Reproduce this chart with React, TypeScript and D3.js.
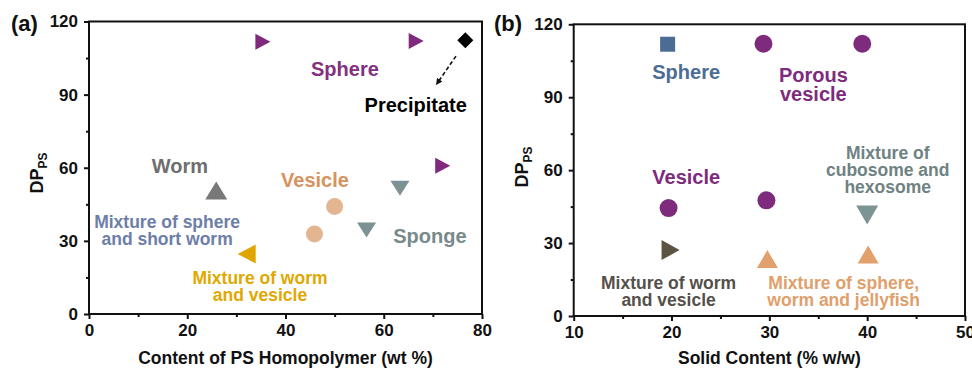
import React, { useEffect, useRef } from 'react';
import * as d3 from 'd3';

// panel (a): DP_PS vs content of PS homopolymer
const aSphereX = [35.4, 66.6, 72.0];
const aSphereY = [111.7, 112.0, 60.8];
const aPrecipX = [76.6];
const aPrecipY = [112.3];
const aWormX = [25.9];
const aWormY = [50.7];
const aWormVesX = [32.1];
const aWormVesY = [24.6];
const aVesicleX = [45.9, 50.0];
const aVesicleY = [32.8, 44.1];
const aSpongeX = [56.5, 63.3];
const aSpongeY = [34.5, 51.6];

// panel (b): DP_PS vs solid content
const bSphereX = [19.6];
const bSphereY = [111.8];
const bPorousX = [29.4, 39.5];
const bPorousY = [112.0, 112.0];
const bVesicleX = [19.7, 29.7];
const bVesicleY = [44.4, 47.6];
const bWormVesX = [19.9];
const bWormVesY = [27.1];
const bJellyX = [29.8, 40.1];
const bJellyY = [23.4, 25.3];
const bCuboX = [40.0];
const bCuboY = [41.5];

const yTicks = [0, 30, 60, 90, 120];
const yMinor = [15, 45, 75, 105];
const aXTicks = [0, 20, 40, 60, 80];
const aXMinor = [10, 30, 50, 70];
const bXTicks = [10, 20, 30, 40, 50];
const bXMinor = [15, 25, 35, 45];

const FONT = '"Liberation Sans", Arial, sans-serif';

const zip = (xs: number[], ys: number[]) => xs.map((x, i) => ({ x, y: ys[i] }));

function shapePath(shape: string, w: number, h: number) {
  const p = d3.path();
  const a = w / 2, b = h / 2;
  if (shape === 'circle') {
    p.arc(0, 0, a, 0, Math.PI * 2);
  } else if (shape === 'square') {
    p.rect(-a, -b, w, h);
  } else if (shape === 'right') {
    p.moveTo(-a, -b); p.lineTo(a, 0); p.lineTo(-a, b); p.closePath();
  } else if (shape === 'left') {
    p.moveTo(a, -b); p.lineTo(-a, 0); p.lineTo(a, b); p.closePath();
  } else if (shape === 'up') {
    p.moveTo(0, -b); p.lineTo(a, b); p.lineTo(-a, b); p.closePath();
  } else if (shape === 'down') {
    p.moveTo(-a, -b); p.lineTo(a, -b); p.lineTo(0, b); p.closePath();
  } else {
    p.moveTo(0, -b); p.lineTo(a, 0); p.lineTo(0, b); p.lineTo(-a, 0); p.closePath();
  }
  return p.toString();
}

function drawPanel(svg: any, cfg: any) {
  const x = d3.scaleLinear().domain(cfg.xDomain).range([cfg.left, cfg.right]);
  const y = d3.scaleLinear().domain([0, 120]).range([cfg.bottom, cfg.top]);
  const g = svg.append('g');

  const styleAxis = (sel: any) => {
    sel.select('.domain').remove();
    sel.selectAll('line').attr('stroke', '#111').attr('stroke-width', 2);
    sel.selectAll('text')
      .attr('font-family', FONT).attr('font-weight', 'bold')
      .attr('font-size', 17).attr('fill', '#111');
  };

  g.append('g').attr('transform', `translate(0,${cfg.bottom})`)
    .call(d3.axisBottom(x).tickValues(cfg.xTicks).tickSize(5).tickPadding(5).tickFormat(d3.format('d')))
    .call(styleAxis);
  g.append('g').attr('transform', `translate(0,${cfg.bottom})`)
    .call(d3.axisBottom(x).tickValues(cfg.xMinor).tickSize(3).tickFormat(() => ''))
    .call(styleAxis);
  g.append('g').attr('transform', `translate(${cfg.left},0)`)
    .call(d3.axisLeft(y).tickValues(yTicks).tickSize(5).tickPadding(6).tickFormat(d3.format('d')))
    .call(styleAxis);
  g.append('g').attr('transform', `translate(${cfg.left},0)`)
    .call(d3.axisLeft(y).tickValues(yMinor).tickSize(3).tickFormat(() => ''))
    .call(styleAxis);

  g.append('rect')
    .attr('x', x(cfg.xDomain[0])).attr('y', y(120))
    .attr('width', x(cfg.xDomain[1]) - x(cfg.xDomain[0]))
    .attr('height', y(0) - y(120))
    .attr('fill', 'none').attr('stroke', '#111').attr('stroke-width', 2);

  // markers
  cfg.series.forEach((s: any) => {
    g.append('g').selectAll('path').data(s.points).enter().append('path')
      .attr('transform', (d: any) => `translate(${x(d.x)},${y(d.y)})`)
      .attr('d', shapePath(s.shape, s.w, s.h))
      .attr('fill', s.color);
  });

  // annotations
  cfg.labels.forEach((l: any) => {
    const t = g.append('text')
      .attr('x', x(l.x)).attr('y', y(l.y))
      .attr('text-anchor', 'middle')
      .attr('font-family', FONT).attr('font-weight', 'bold')
      .attr('font-size', l.size).attr('fill', l.color);
    l.lines.forEach((line: string, i: number) => {
      t.append('tspan').attr('x', x(l.x)).attr('dy', i === 0 ? 0 : l.lh).text(line);
    });
  });

  if (cfg.arrow) {
    g.append('line')
      .attr('x1', x(cfg.arrow.x1)).attr('y1', y(cfg.arrow.y1))
      .attr('x2', x(cfg.arrow.x2)).attr('y2', y(cfg.arrow.y2))
      .attr('stroke', '#111').attr('stroke-width', 1.6)
      .attr('stroke-dasharray', '4,2.5')
      .attr('marker-end', 'url(#arrowHead)');
  }

  // panel letter
  g.append('text')
    .attr('x', cfg.letterX).attr('y', 31)
    .attr('font-family', FONT).attr('font-weight', 'bold')
    .attr('font-size', 22).attr('fill', '#111')
    .text(cfg.letter);

  // y title
  const yt = g.append('text')
    .attr('transform', `translate(${cfg.yTitleX},${cfg.yTitleY}) rotate(-90)`)
    .attr('text-anchor', 'middle')
    .attr('font-family', FONT).attr('font-weight', 'bold')
    .attr('font-size', 18).attr('fill', '#111');
  yt.append('tspan').text('DP');
  yt.append('tspan').attr('font-size', 12).attr('dy', 4).text('PS');

  // x title
  g.append('text')
    .attr('x', (cfg.left + cfg.right) / 2).attr('y', 364)
    .attr('text-anchor', 'middle')
    .attr('font-family', FONT).attr('font-weight', 'bold')
    .attr('font-size', 17.5).attr('fill', '#111')
    .text(cfg.xTitle);
}

const App = () => {
  const ref = useRef<SVGSVGElement>(null);

  useEffect(() => {
    const svg = d3.select(ref.current);
    svg.selectAll('*').remove();

    svg.append('defs').append('marker')
      .attr('id', 'arrowHead')
      .attr('viewBox', '0 0 10 10')
      .attr('refX', 8).attr('refY', 5)
      .attr('markerWidth', 4).attr('markerHeight', 4)
      .attr('markerUnits', 'strokeWidth')
      .attr('orient', 'auto')
      .append('path').attr('d', 'M0,0 L10,5 L0,10 Z').attr('fill', '#111');

    drawPanel(svg, {
      xDomain: [0, 80], xTicks: aXTicks, xMinor: aXMinor,
      left: 89, right: 482, top: 21.5, bottom: 314,
      letter: '(a)', letterX: 11, yTitleX: 43, yTitleY: 173,
      xTitle: 'Content of PS Homopolymer (wt %)',
      series: [
        { points: zip(aSphereX, aSphereY), shape: 'right', color: '#7F2A7C', w: 15, h: 16 },
        { points: zip(aPrecipX, aPrecipY), shape: 'diamond', color: '#000', w: 16, h: 16 },
        { points: zip(aWormX, aWormY), shape: 'up', color: '#787878', w: 22, h: 18 },
        { points: zip(aWormVesX, aWormVesY), shape: 'left', color: '#E0A500', w: 18, h: 19 },
        { points: zip(aVesicleX, aVesicleY), shape: 'circle', color: '#E3B590', w: 17, h: 17 },
        { points: zip(aSpongeX, aSpongeY), shape: 'down', color: '#7D9393', w: 19, h: 15 },
      ],
      labels: [
        { lines: ['Sphere'], x: 52.1, y: 97.6, size: 20, lh: 0, color: '#82307F' },
        { lines: ['Precipitate'], x: 66.5, y: 82.9, size: 20, lh: 0, color: '#000' },
        { lines: ['Worm'], x: 18.5, y: 57.8, size: 20, lh: 0, color: '#6E6E6E' },
        { lines: ['Vesicle'], x: 46.0, y: 52.1, size: 20, lh: 0, color: '#D8925C' },
        { lines: ['Sponge'], x: 69.4, y: 29.1, size: 20, lh: 0, color: '#788A8A' },
        { lines: ['Mixture of sphere', 'and short worm'], x: 15.9, y: 35.3, size: 17.5, lh: 17, color: '#6D7EA8' },
        { lines: ['Mixture of worm', 'and vesicle'], x: 34.8, y: 12.3, size: 17.5, lh: 17, color: '#E0A800' },
      ],
      arrow: { x1: 74.7, y1: 105.8, x2: 70.8, y2: 94.4 },
    });

    drawPanel(svg, {
      xDomain: [10, 50], xTicks: bXTicks, xMinor: bXMinor,
      left: 573.7, right: 965, top: 24.3, bottom: 316,
      letter: '(b)', letterX: 494, yTitleX: 528, yTitleY: 167,
      xTitle: 'Solid Content (% w/w)',
      series: [
        { points: zip(bSphereX, bSphereY), shape: 'square', color: '#4B6D94', w: 15, h: 15 },
        { points: zip(bPorousX, bPorousY), shape: 'circle', color: '#7E2B7D', w: 18, h: 18 },
        { points: zip(bVesicleX, bVesicleY), shape: 'circle', color: '#7E2B7D', w: 18, h: 18 },
        { points: zip(bWormVesX, bWormVesY), shape: 'right', color: '#5C5343', w: 18, h: 20 },
        { points: zip(bJellyX, bJellyY), shape: 'up', color: '#E1A06C', w: 21, h: 18 },
        { points: zip(bCuboX, bCuboY), shape: 'down', color: '#7C9494', w: 22, h: 19 },
      ],
      labels: [
        { lines: ['Sphere'], x: 21.5, y: 97.4, size: 20, lh: 0, color: '#4B6D94' },
        { lines: ['Porous', 'vesicle'], x: 34.5, y: 96.2, size: 20, lh: 19.3, color: '#7E2B7D' },
        { lines: ['Vesicle'], x: 21.5, y: 54.4, size: 20, lh: 0, color: '#7E2B7D' },
        { lines: ['Mixture of', 'cubosome and', 'hexosome'], x: 42.1, y: 64.6, size: 17.5, lh: 17, color: '#6E8282' },
        { lines: ['Mixture of worm', 'and vesicle'], x: 19.7, y: 11.1, size: 17.5, lh: 17, color: '#55504A' },
        { lines: ['Mixture of sphere,', 'worm and jellyfish'], x: 37.6, y: 11.1, size: 17.5, lh: 17, color: '#E0A06C' },
      ],
    });
  }, []);

  return (
    <svg ref={ref} width={972} height={368}
      style={{ position: 'absolute', left: 0, top: 0, background: '#fff' }} />
  );
};

export default App;
